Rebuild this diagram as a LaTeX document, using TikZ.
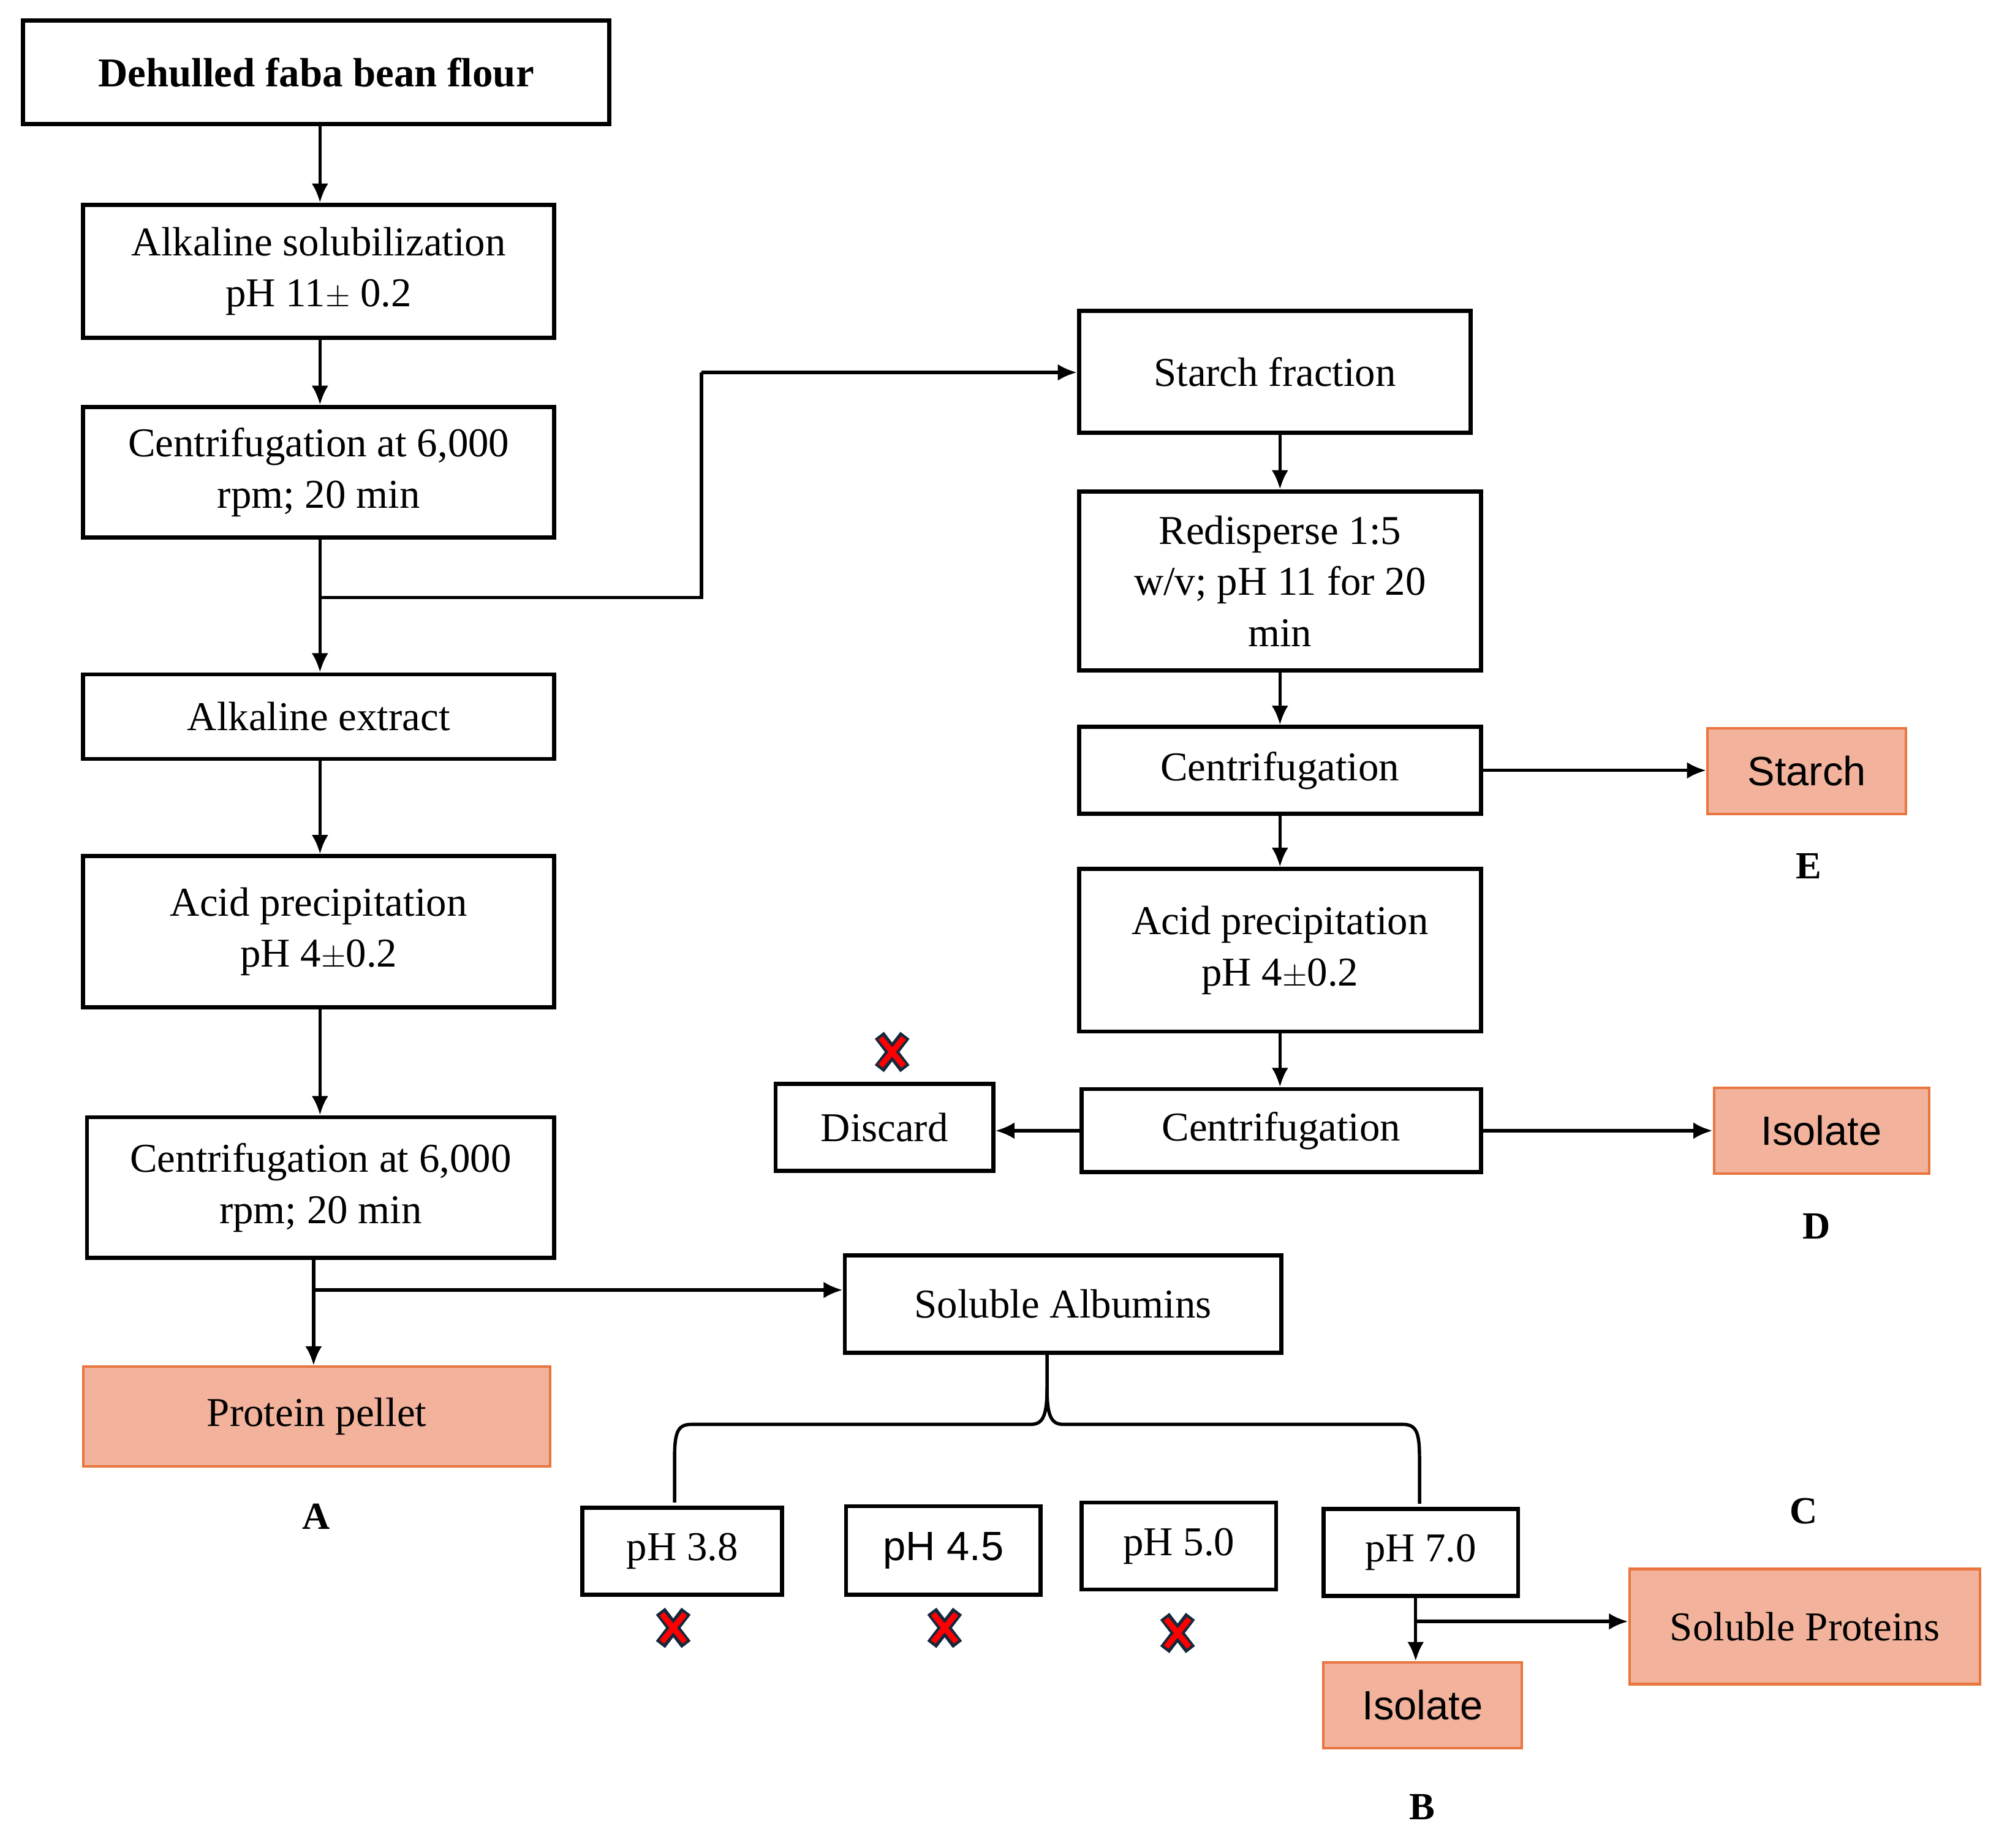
\documentclass[tikz,border=0pt]{standalone}
\usepackage{fontspec}
\setmainfont{Liberation Serif}
\newfontfamily\sansf{Liberation Sans}
\usetikzlibrary{arrows.meta}
\definecolor{obord}{RGB}{232,118,62}
\definecolor{ofill}{RGB}{242,178,155}
\definecolor{xdark}{RGB}{20,40,60}
\begin{document}
\begin{tikzpicture}[x=1pt,y=-1pt,
  bx/.style={draw=black,line width=3.2pt,fill=white,inner sep=0pt,font=\fontsize{32}{40}\selectfont,align=center},
  ob/.style={draw=obord,line width=2pt,fill=ofill,inner sep=0pt,font=\fontsize{32}{40}\selectfont,align=center},
  lab/.style={font=\fontsize{30}{36}\selectfont\bfseries},
  ar/.style={line width=2.6pt,-{Latex[length=15pt,width=13pt]}},
  ln/.style={line width=2.6pt}]
\useasboundingbox (0,0) rectangle (1568,1444);
\newcommand{\bxat}[6][bx]{\node[#1,minimum width=#4-#2,minimum height=#5-#3] (#6) at ({(#2+#4)/2},{(#3+#5)/2})}
\bxat{18}{16}{476}{97}{t} {\bfseries Dehulled faba bean flour};
\bxat{65}{160}{433}{264}{as} {Alkaline solubilization\\pH 11$\pm$ 0.2};
\bxat{65}{318}{433}{420}{c1} {Centrifugation at 6,000\\rpm; 20 min};
\bxat{65}{527}{433}{593}{ae} {Alkaline extract};
\bxat{65}{669}{433}{787}{ap} {Acid precipitation\\pH 4$\pm$0.2};
\bxat{68}{873}{433}{983}{c2} {Centrifugation at 6,000\\rpm; 20 min};
\bxat[ob]{65}{1068}{430}{1146}{pp} {Protein pellet};
\node[lab] (A) at (247,1185) {A};
\bxat{843}{243}{1149}{338}{sf} {Starch fraction};
\bxat{843}{384}{1157}{524}{rd} {Redisperse 1:5\\w/v; pH 11 for 20\\min};
\bxat{843}{568}{1157}{636}{c3} {Centrifugation};
\bxat[ob]{1334}{569}{1489}{636}{st} {\sansf Starch};
\node[lab] (E) at (1413,677) {E};
\bxat{843}{679}{1157}{806}{a2} {Acid precipitation\\pH 4$\pm$0.2};
\bxat{845}{851}{1157}{916}{c4} {Centrifugation};
\bxat{606}{847}{776}{915}{ds} {Discard};
\bxat[ob]{1339}{850}{1507}{917}{iD} {\sansf Isolate};
\node[lab] (D) at (1419,958) {D};
\bxat{660}{981}{1001}{1057}{sa} {Soluble Albumins};
\bxat{455}{1178}{611}{1246}{p1} {pH 3.8};
\bxat{661}{1177}{813}{1246}{p2} {\sansf pH 4.5};
\bxat{845}{1174}{997}{1242}{p3} {pH 5.0};
\bxat{1034}{1179}{1186}{1247}{p4} {pH 7.0};
\bxat[ob]{1034}{1299}{1189}{1366}{iB} {\sansf Isolate};
\node[lab] (B) at (1111,1412) {B};
\bxat[ob]{1273}{1226}{1547}{1316}{sp} {Soluble Proteins};
\node[lab] (C) at (1409,1181) {C};
% arrows
\coordinate (xL) at (250,0);
\draw[ar] (t.south -| xL) -- (as.north -| xL);
\draw[ar] (as.south -| xL) -- (c1.north -| xL);
\draw[ar] (c1.south -| xL) -- (ae.north -| xL);
\coordinate (j1) at (250,467);
\draw[ln] (j1) -- (548,467) -- (548,291);
\draw[ar] (548,291) -- (sf.west |- 0,291);
\draw[ar] (ae.south -| xL) -- (ap.north -| xL);
\draw[ar] (ap.south -| xL) -- (c2.north -| xL);
\coordinate (c2b) at (245,983);
\draw[ar] (c2b) -- (c2b |- pp.north);
\coordinate (j2) at (245,1008);
\draw[ar] (j2) -- (sa.west |- j2);
\coordinate (xR) at (1000,0);
\draw[ar] (sf.south -| xR) -- (rd.north -| xR);
\draw[ar] (rd.south -| xR) -- (c3.north -| xR);
\draw[ar] (c3.south -| xR) -- (a2.north -| xR);
\draw[ar] (a2.south -| xR) -- (c4.north -| xR);
\draw[ar] (c3.east) -- (st.west |- c3.east);
\draw[ar] (c4.east) -- (iD.west |- c4.east);
\draw[ar] (c4.west) -- (ds.east |- c4.west);
\coordinate (p4b) at (1106,1247);
\draw[ar] (p4b) -- (p4b |- iB.north);
\coordinate (j3) at (1106,1267);
\draw[ar] (j3) -- (sp.west |- j3);
% brace
\draw[ln] (818,1057) -- (818,1085) .. controls (818,1108) and (814,1113) .. (805,1113) -- (540,1113) .. controls (529,1113) and (527,1120) .. (527,1140) -- (527,1174);
\draw[ln] (818,1085) .. controls (818,1108) and (822,1113) .. (831,1113) -- (1096,1113) .. controls (1107,1113) and (1109,1120) .. (1109,1140) -- (1109,1175);
% crosses
\foreach \px/\py in {697/822,526/1272,738/1272,920/1276}{
  \draw[line width=9pt,xdark] (\px-10,\py-13) -- (\px+10,\py+13) (\px+10,\py-13) -- (\px-10,\py+13);
  \draw[line width=4.5pt,red] (\px-9,\py-11) -- (\px+9,\py+11) (\px+9,\py-11) -- (\px-9,\py+11);
}
\end{tikzpicture}
\end{document}
